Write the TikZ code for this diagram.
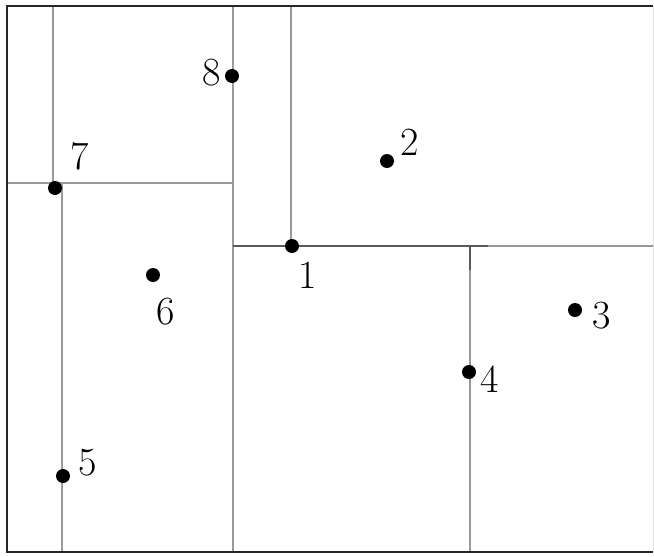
\documentclass[tikz,border=0pt]{standalone}
\begin{document}
\begin{tikzpicture}[x=1pt,y=-1pt,
  frame/.style={draw=black!85, line width=1.6pt},
  part/.style={draw=black!40, line width=1.4pt},
  darkpart/.style={draw=black!65, line width=1.4pt},
  pt/.style={circle, fill=black, inner sep=0pt, minimum size=14pt},
  lab/.style={font=\fontsize{40}{44}\selectfont, inner sep=0pt, anchor=center}]
\useasboundingbox (0,0) rectangle (654,557);
% frame corners
\coordinate (TL) at (7,6);
\coordinate (TR) at (653,6);
\coordinate (BL) at (7,552);
\coordinate (BR) at (653,552);
% partition line ends
\coordinate (a1) at (53,6);   \coordinate (a2) at (53,183);
\coordinate (h1) at (7,183);  \coordinate (h2) at (233,183);
\coordinate (b1) at (62,183); \coordinate (b2) at (62,552);
\coordinate (c1) at (233,6);  \coordinate (c2) at (233,552);
\coordinate (d1) at (291,6);  \coordinate (d2) at (291,246);
\coordinate (e1) at (233,246); \coordinate (e2) at (488,246); \coordinate (e3) at (653,246);
\coordinate (f1) at (470,246); \coordinate (f2) at (470,270); \coordinate (f3) at (470,552);
% lines
\draw[part] (a1) -- (a2);
\draw[part] (h1) -- (h2);
\draw[part] (b1) -- (b2);
\draw[part] (c1) -- (c2);
\draw[part] (d1) -- (d2);
\draw[darkpart] (e1) -- (e2);
\draw[part] (e2) -- (e3);
\draw[part] (f2) -- (f3);
\draw[darkpart] (f1) -- (f2);
% frame
\draw[draw=black!12, line width=1pt] (TR) -- (BR);
\draw[frame] (TR) -- (TL) -- (BL) -- (BR);
% points
\node[pt] (p1) at (292,246) {};
\node[pt] (p2) at (387,161) {};
\node[pt] (p3) at (575,310) {};
\node[pt] (p4) at (469,372) {};
\node[pt] (p5) at (63,476) {};
\node[pt] (p6) at (153,275) {};
\node[pt] (p7) at (55,188) {};
\node[pt] (p8) at (232,76) {};
% labels
\node[lab] (l1) at (308,275) {1};
\node[lab] (l2) at (410,142) {2};
\node[lab] (l3) at (602,316) {3};
\node[lab] (l4) at (490,379) {4};
\node[lab] (l5) at (88,463) {5};
\node[lab] (l6) at (166,312) {6};
\node[lab] (l7) at (80,156) {7};
\node[lab] (l8) at (212,73) {8};
\end{tikzpicture}
\end{document}
